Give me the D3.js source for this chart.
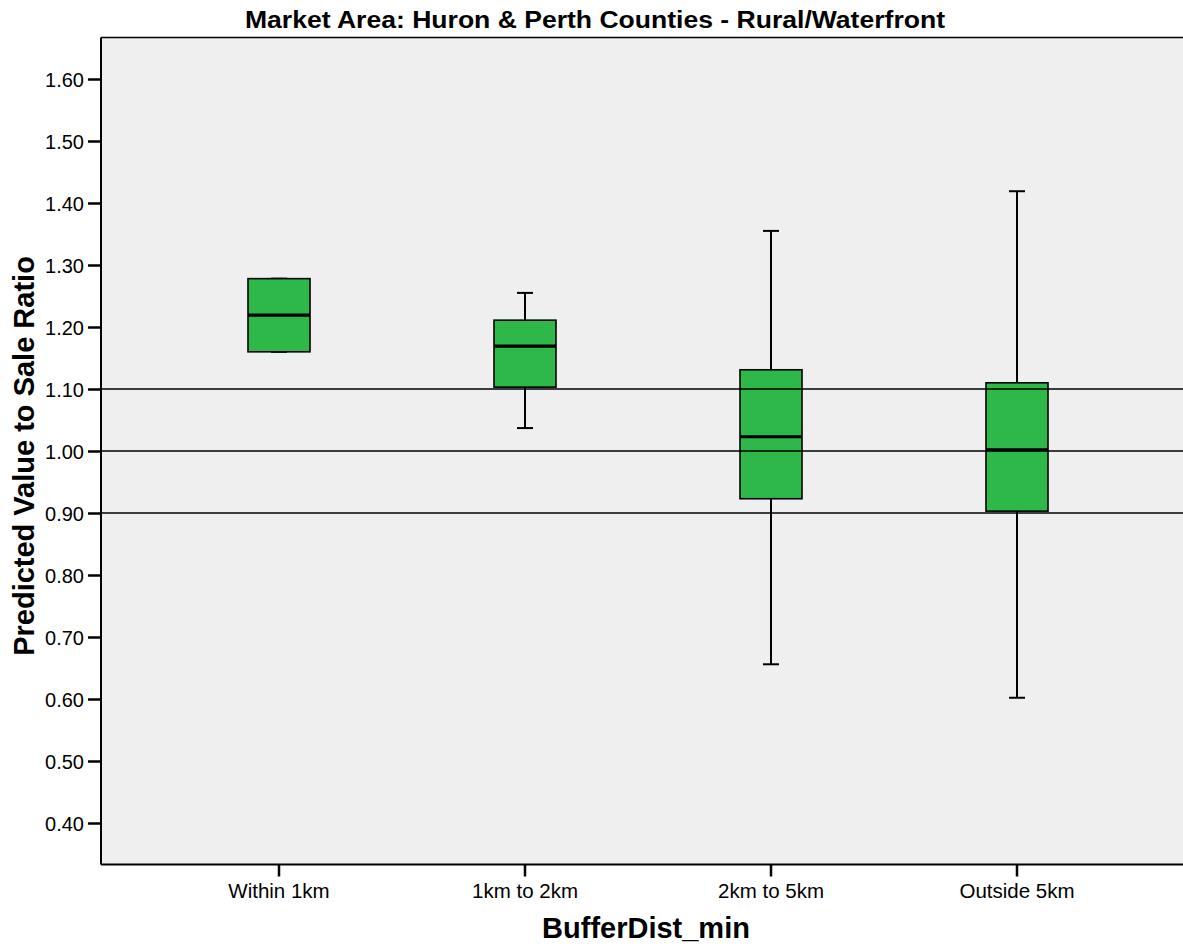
<!DOCTYPE html>
<html><head><meta charset="utf-8">
<script src="https://cdn.jsdelivr.net/npm/d3@7"></script>
<style>body{margin:0;background:#fff}svg{display:block}text{font-family:"Liberation Sans",Arial,sans-serif;fill:#000}</style>
</head><body><svg id="c" width="1183" height="947"></svg>
<script>
const categories = ["Within 1km","1km to 2km","2km to 5km","Outside 5km"];
const whiskerLow  = [1.160, 1.037, 0.656, 0.602];
const q1          = [1.160, 1.103, 0.923, 0.903];
const median      = [1.219, 1.169, 1.023, 1.002];
const q3          = [1.278, 1.211, 1.131, 1.110];
const whiskerHigh = [1.278, 1.255, 1.355, 1.419];
const yTicks = [0.40,0.50,0.60,0.70,0.80,0.90,1.00,1.10,1.20,1.30,1.40,1.50,1.60];
const refLines = [0.90,1.00,1.10];

const svg = d3.select("#c");
const L=101, T=37.5, R=1183, B=864.5;
const y = d3.scaleLinear().domain([0.40,1.60]).range([823,79]);
const x = d3.scaleBand().domain(categories).range([156,1140]);

svg.append("rect").attr("x",L).attr("y",T).attr("width",R-L).attr("height",B-T).attr("fill","#efefef");

const data = categories.map((c,i)=>({c,lo:whiskerLow[i],q1:q1[i],md:median[i],q3:q3[i],hi:whiskerHigh[i]}));
const bw = 62, cap=16;
const g = svg.append("g");
data.forEach(d=>{
  const cx = x(d.c)+x.bandwidth()/2;
  g.append("line").attr("x1",cx).attr("x2",cx).attr("y1",y(d.hi)).attr("y2",y(d.q3)).attr("stroke","#000").attr("stroke-width",2);
  g.append("line").attr("x1",cx).attr("x2",cx).attr("y1",y(d.q1)).attr("y2",y(d.lo)).attr("stroke","#000").attr("stroke-width",2);
  g.append("line").attr("x1",cx-cap/2).attr("x2",cx+cap/2).attr("y1",y(d.hi)).attr("y2",y(d.hi)).attr("stroke","#000").attr("stroke-width",2);
  g.append("line").attr("x1",cx-cap/2).attr("x2",cx+cap/2).attr("y1",y(d.lo)).attr("y2",y(d.lo)).attr("stroke","#000").attr("stroke-width",2);
  g.append("rect").attr("x",cx-bw/2).attr("width",bw).attr("y",y(d.q3)).attr("height",y(d.q1)-y(d.q3))
    .attr("fill","#2eb84a").attr("stroke","#000").attr("stroke-width",1.6);
  g.append("line").attr("x1",cx-bw/2).attr("x2",cx+bw/2).attr("y1",y(d.md)).attr("y2",y(d.md)).attr("stroke","#000").attr("stroke-width",3.2);
});

svg.selectAll(".ref").data(refLines).enter().append("line")
  .attr("x1",L).attr("x2",R).attr("y1",d=>y(d)).attr("y2",d=>y(d)).attr("stroke","#000").attr("stroke-width",1.5);

svg.append("line").attr("x1",L).attr("x2",R).attr("y1",T).attr("y2",T).attr("stroke","#000").attr("stroke-width",1.5);
const yAxis = svg.append("g").attr("transform",`translate(${L},0)`)
  .call(d3.axisLeft(y).tickValues(yTicks).tickFormat(d3.format(".2f")).tickSize(13).tickSizeOuter(0).tickPadding(4));
yAxis.attr("font-size",null).attr("font-family",null);
yAxis.select(".domain").attr("d",`M0,${T}V${B}`).attr("stroke-width",2);
yAxis.selectAll(".tick line").attr("stroke-width",2.5);
yAxis.selectAll(".tick text").style("font-size","20px").attr("dy","0.35em");

const xAxis = svg.append("g").attr("transform",`translate(0,${B})`)
  .call(d3.axisBottom(x).tickSize(12).tickSizeOuter(0).tickPadding(7));
xAxis.attr("font-size",null).attr("font-family",null);
xAxis.select(".domain").attr("d",`M${L},0H${R}`).attr("stroke-width",2);
xAxis.selectAll(".tick line").attr("stroke-width",2.5);
xAxis.selectAll(".tick text").style("font-size","20.5px");

svg.append("text").attr("x",595).attr("y",28).attr("text-anchor","middle").style("font-size","23px").attr("font-weight","bold")
  .attr("textLength",700).attr("lengthAdjust","spacingAndGlyphs")
  .text("Market Area: Huron & Perth Counties - Rural/Waterfront");
svg.append("text").attr("x",646).attr("y",938).attr("text-anchor","middle").style("font-size","29px").attr("font-weight","bold")
  .text("BufferDist_min");
svg.append("text").attr("transform","translate(34,456) rotate(-90)").attr("text-anchor","middle").style("font-size","29px").attr("font-weight","bold")
  .text("Predicted Value to Sale Ratio");
</script></body></html>
